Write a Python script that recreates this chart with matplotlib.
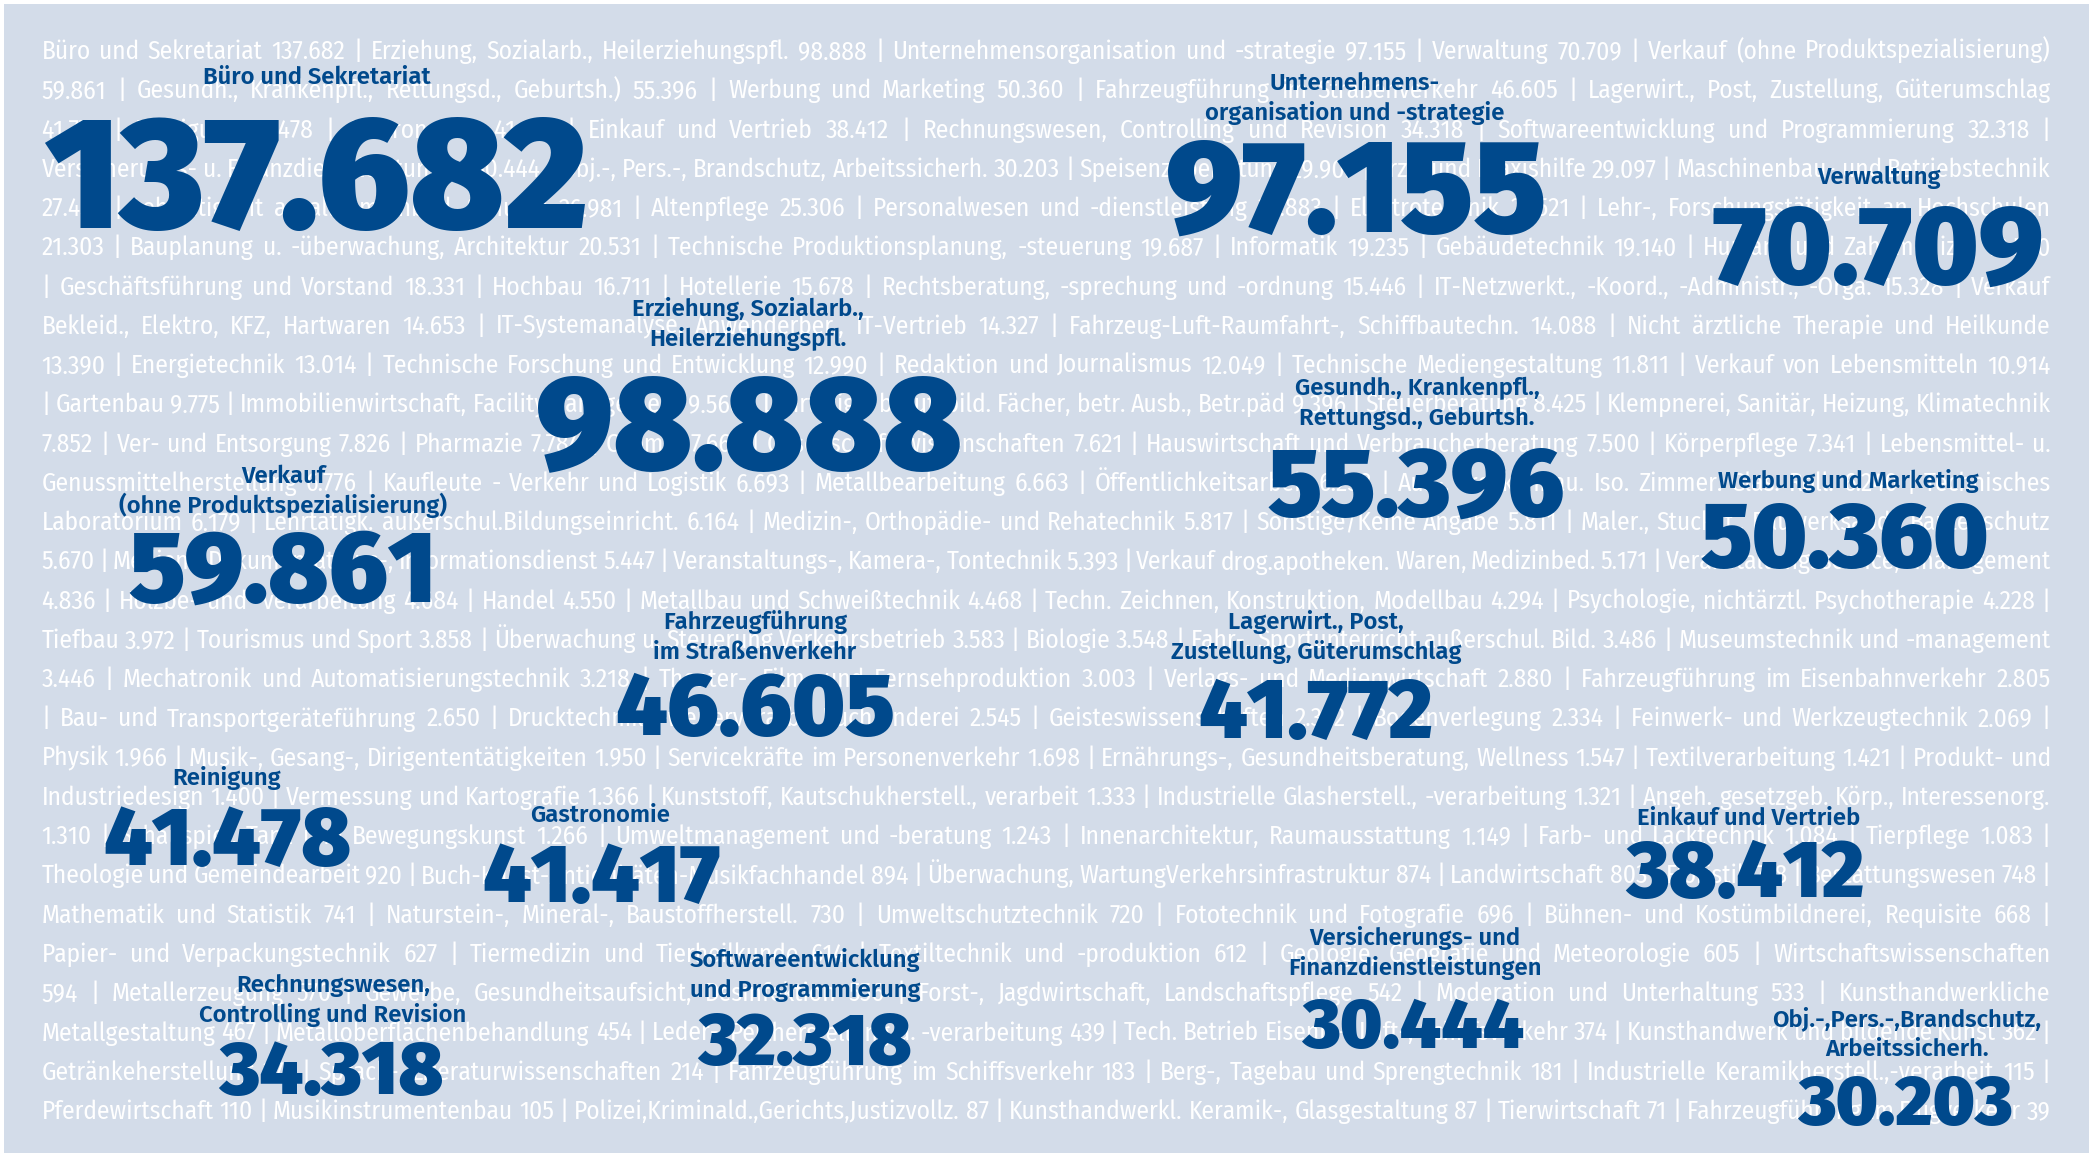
import matplotlib
matplotlib.use("Agg")
import matplotlib.pyplot as plt
from matplotlib.patches import Rectangle
import numpy as np

# ---------------- data ----------------
categories = [
    "Büro und Sekretariat", "Erziehung, Sozialarb., Heilerziehungspfl.", "Unternehmensorganisation und -strategie",
    "Verwaltung", "Verkauf (ohne Produktspezialisierung)", "Gesundh., Krankenpfl., Rettungsd., Geburtsh.)",
    "Werbung und Marketing", "Fahrzeugführung im Straßenverkehr", "Lagerwirt., Post, Zustellung, Güterumschlag",
    "Reinigung", "Gastronomie", "Einkauf und Vertrieb", "Rechnungswesen, Controlling und Revision",
    "Softwareentwicklung und Programmierung", "Versicherungs- u. Finanzdienstleistungen",
    "Obj.-, Pers.-, Brandschutz, Arbeitssicherh.", "Speisenzubereitung", "Arzt- und Praxishilfe",
    "Maschinenbau- und Betriebstechnik", "Lehrtätigkeit an allgemeinbild. Schulen", "Altenpflege",
    "Personalwesen und -dienstleistung", "Elektrotechnik", "Lehr-, Forschungstätigkeit an Hochschulen",
    "Bauplanung u. -überwachung, Architektur", "Technische Produktionsplanung, -steuerung", "Informatik",
    "Gebäudetechnik", "Human- und Zahnmedizin", "Geschäftsführung und Vorstand", "Hochbau", "Hotellerie",
    "Rechtsberatung, -sprechung und -ordnung", "IT-Netzwerkt., -Koord., -Administr., -Orga.",
    "Verkauf Bekleid., Elektro, KFZ, Hartwaren", "IT-Systemanalyse, Anwenderber., IT-Vertrieb",
    "Fahrzeug-Luft-Raumfahrt-, Schiffbautechn.", "Nicht ärztliche Therapie und Heilkunde", "Energietechnik",
    "Technische Forschung und Entwicklung", "Redaktion und Journalismus", "Technische Mediengestaltung",
    "Verkauf von Lebensmitteln", "Gartenbau", "Immobilienwirtschaft, Facilitymanagement",
    "Lehrtätigk. berufsbild. Fächer, betr. Ausb., Betr.päd", "Steuerberatung",
    "Klempnerei, Sanitär, Heizung, Klimatechnik", "Ver- und Entsorgung", "Pharmazie", "Chemie",
    "Gesellschaftswissenschaften", "Hauswirtschaft und Verbraucherberatung", "Körperpflege",
    "Lebensmittel- u. Genussmittelherstellung", "Kaufleute - Verkehr und Logistik", "Metallbearbeitung",
    "Öffentlichkeitsarbeit", "Aus-, Trockenbau. Iso. Zimmer. Glas. Roll.", "Technisches Laboratorium",
    "Lehrtätigk. außerschul.Bildungseinricht.", "Medizin-, Orthopädie- und Rehatechnik",
    "Sonstige/Keine Angabe", "Maler., Stuckat., Bauwerksabd., Bautenschutz",
    "Medien-, Dokumentations-, Informationsdienst", "Veranstaltungs-, Kamera-, Tontechnik",
    "Verkauf drog.apotheken. Waren, Medizinbed.", "Veranstaltungsservice, -management",
    "Holzbe- und -verarbeitung", "Handel", "Metallbau und Schweißtechnik",
    "Techn. Zeichnen, Konstruktion, Modellbau", "Psychologie, nichtärztl. Psychotherapie", "Tiefbau",
    "Tourismus und Sport", "Überwachung u. Steuerung Verkehrsbetrieb", "Biologie",
    "Fahr-, Sportunterricht außerschul. Bild.", "Museumstechnik und -management",
    "Mechatronik und Automatisierungstechnik", "Theater-, Film- und Fernsehproduktion",
    "Verlags- und Medienwirtschaft", "Fahrzeugführung im Eisenbahnverkehr", "Bau- und Transportgeräteführung",
    "Drucktechnik, -weiterverarb., Buchbinderei", "Geisteswissenschaften", "Bodenverlegung",
    "Feinwerk- und Werkzeugtechnik", "Physik", "Musik-, Gesang-, Dirigententätigkeiten",
    "Servicekräfte im Personenverkehr", "Ernährungs-, Gesundheitsberatung, Wellness", "Textilverarbeitung",
    "Produkt- und Industriedesign", "Vermessung und Kartografie", "Kunststoff, Kautschukherstell., verarbeit",
    "Industrielle Glasherstell., -verarbeitung", "Angeh. gesetzgeb. Körp., Interessenorg.",
    "Schauspiel, Tanz und Bewegungskunst", "Umweltmanagement und -beratung",
    "Innenarchitektur, Raumausstattung", "Farb- und Lacktechnik", "Tierpflege",
    "Theologie und Gemeindearbeit", "Buch-Kunst-Antiquitäten-Musikfachhandel",
    "Überwachung, WartungVerkehrsinfrastruktur", "Landwirtschaft", "Floristik", "Bestattungswesen",
    "Mathematik und Statistik", "Naturstein-, Mineral-, Baustoffherstell.", "Umweltschutztechnik",
    "Fototechnik und Fotografie", "Bühnen- und Kostümbildnerei, Requisite", "Papier- und Verpackungstechnik",
    "Tiermedizin und Tierheilkunde", "Textiltechnik und -produktion", "Geologie, Geografie und Meteorologie",
    "Wirtschaftswissenschaften", "Metallerzeugung", "Gewerbe, Gesundheitsaufsicht, Desinfektion",
    "Forst-, Jagdwirtschaft, Landschaftspflege", "Moderation und Unterhaltung",
    "Kunsthandwerkliche Metallgestaltung", "Metalloberflächenbehandlung",
    "Leder-, Pelzherstellung u. -verarbeitung", "Tech. Betrieb Eisenb.-, Luft-, Schiffsverkehr",
    "Kunsthandwerk und bildende Kunst", "Getränkeherstellung", "Sprach-, Literaturwissenschaften",
    "Fahrzeugführung im Schiffsverkehr", "Berg-, Tagebau und Sprengtechnik",
    "Industrielle Keramikherstell.,-verarbeit", "Pferdewirtschaft", "Musikinstrumentenbau",
    "Polizei,Kriminald.,Gerichts,Justizvollz.", "Kunsthandwerkl. Keramik-, Glasgestaltung",
    "Tierwirtschaft", "Fahrzeugführung im Flugverkehr",
]
values = [
    137682, 98888, 97155, 70709, 59861, 55396, 50360, 46605, 41772, 41478, 41417, 38412, 34318, 32318,
    30444, 30203, 29907, 29097, 27435, 26981, 25306, 22883, 21521, 21303, 20531, 19687, 19235, 19140,
    18590, 18331, 16711, 15678, 15446, 15328, 14653, 14327, 14088, 13390, 13014, 12990, 12049, 11811,
    10914, 9775, 9568, 9396, 8425, 7852, 7826, 7784, 7664, 7621, 7500, 7341, 6776, 6693, 6663, 6258,
    6240, 6179, 6164, 5817, 5811, 5670, 5447, 5393, 5171, 4836, 4684, 4550, 4468, 4294, 4228, 3972,
    3858, 3583, 3548, 3486, 3446, 3218, 3003, 2880, 2805, 2650, 2545, 2352, 2334, 2069, 1966, 1950,
    1698, 1547, 1421, 1400, 1366, 1333, 1321, 1310, 1266, 1243, 1149, 1084, 1083, 920, 894, 874, 803,
    778, 748, 741, 730, 720, 696, 668, 627, 614, 612, 605, 594, 570, 556, 542, 533, 467, 454, 439, 374,
    362, 271, 214, 183, 181, 115, 110, 105, 87, 87, 71, 39,
]
highlight_labels = [
    "Büro und Sekretariat", "Erziehung, Sozialarb.,\nHeilerziehungspfl.",
    "Unternehmens-\norganisation und -strategie", "Verwaltung", "Verkauf\n(ohne Produktspezialisierung)",
    "Gesundh., Krankenpfl.,\nRettungsd., Geburtsh.", "Werbung und Marketing",
    "Fahrzeugführung\nim Straßenverkehr", "Lagerwirt., Post,\nZustellung, Güterumschlag", "Reinigung",
    "Gastronomie", "Einkauf und Vertrieb", "Rechnungswesen,\nControlling und Revision",
    "Softwareentwicklung\nund Programmierung", "Versicherungs- und\nFinanzdienstleistungen",
    "Obj.-,Pers.-,Brandschutz,\nArbeitssicherh.",
]
highlight_values = values[:len(highlight_labels)]

# ---------------- layout (pixels) ----------------
# where each line of the background paragraph starts: (item index, word index within item tokens)
line_starts = [(0, 0), (4, 3), (8, 4), (14, 0), (18, 3), (23, 4), (28, 4), (34, 1), (37, 5), (42, 4),
               (47, 4), (54, 2), (59, 1), (63, 4), (67, 2), (73, 0), (78, 3), (82, 4), (88, 0), (93, 2),
               (97, 4), (103, 0), (109, 0), (114, 0), (118, 1), (123, 1), (128, 0), (133, 0)]
number_xy = [(316, 228), (749, 468), (1356, 232), (1878, 284), (283, 602), (1416, 516), (1845, 567),
             (755, 735), (1316, 738), (227, 865), (602, 902), (1745, 897), (331, 1094), (805, 1065),
             (1413, 1048), (1905, 1125)]
label_xy = [(317, 84), (748, 346), (1355, 120), (1879, 184), (283, 513), (1417, 425), (1848, 488),
            (755, 659), (1316, 659), (227, 785), (600, 822), (1749, 825), (333, 1022), (805, 997),
            (1415, 975), (1907, 1056)]

W, H = 2093, 1157
BG = "#D3DCE9"
BLUE = "#00498C"
TEXT_X0, TEXT_X1 = 41.5, 2051.0
LINE0, LINE_DY = 59.0, 39.26
BG_SIZE = 18.3


def fmt(v):
    return f"{v:,}".replace(",", ".")


fig = plt.figure(figsize=(W / 100, H / 100), dpi=100, facecolor="white")
ax = fig.add_axes([0, 0, 1, 1])
ax.set_xlim(0, W)
ax.set_ylim(H, 0)
ax.axis("off")
ax.add_patch(Rectangle((4, 4), W - 8, H - 8, color=BG, zorder=0, lw=0))

renderer = fig.canvas.get_renderer()
REF = 20.0
bg_kw = dict(family="Fira Sans Condensed", weight="normal")
cache = {}


def measure(s):
    if s not in cache:
        t = ax.text(0, 0, s, fontsize=REF, **bg_kw)
        cache[s] = t.get_window_extent(renderer).width
        t.remove()
    return cache[s]


# tokens of the paragraph with their (item, word) address
tokens, addr = [], []
for i, (c, v) in enumerate(zip(categories, values)):
    parts = c.split(" ") + [fmt(v)] + (["|"] if i < len(categories) - 1 else [])
    for j, p in enumerate(parts):
        tokens.append(p)
        addr.append((i, j))
start_idx = [addr.index(s) for s in line_starts] + [len(tokens)]
lines = [tokens[a:b] for a, b in zip(start_idx[:-1], start_idx[1:])]

space_w = measure("n n") - measure("nn")
avail = TEXT_X1 - TEXT_X0
size = BG_SIZE
for words in lines:
    nat = sum(measure(w) for w in words) + 0.7 * space_w * (len(words) - 1)
    size = min(size, REF * avail / nat)

for li, words in enumerate(lines):
    y = LINE0 + li * LINE_DY
    ws = [measure(w) * size / REF for w in words]
    gap = (avail - sum(ws)) / (len(words) - 1) if len(words) > 1 else 0
    x = TEXT_X0
    for w, wd in zip(words, ws):
        ax.text(x, y, w, fontsize=size, color="white", ha="left", va="baseline", zorder=1, **bg_kw)
        x += wd + gap

# ---------------- highlighted numbers ----------------
CAP = 0.689
for lab, v, (nx, ny), (lx, ly) in zip(highlight_labels, highlight_values, number_xy, label_xy):
    cap_px = 8.0 * (v / 1000.0) ** 0.53
    fs = cap_px / CAP * 0.72
    ax.text(nx, ny, fmt(v), fontsize=fs, family="Fira Sans", weight="black", color=BLUE,
            ha="center", va="baseline", zorder=3)
    parts = lab.split("\n")
    for j, p in enumerate(reversed(parts)):
        ax.text(lx, ly - j * 30, p, fontsize=17.2, family="Fira Sans", weight="semibold", color=BLUE,
                ha="center", va="baseline", zorder=3)

fig.savefig("out.png", dpi=100, facecolor="white")
